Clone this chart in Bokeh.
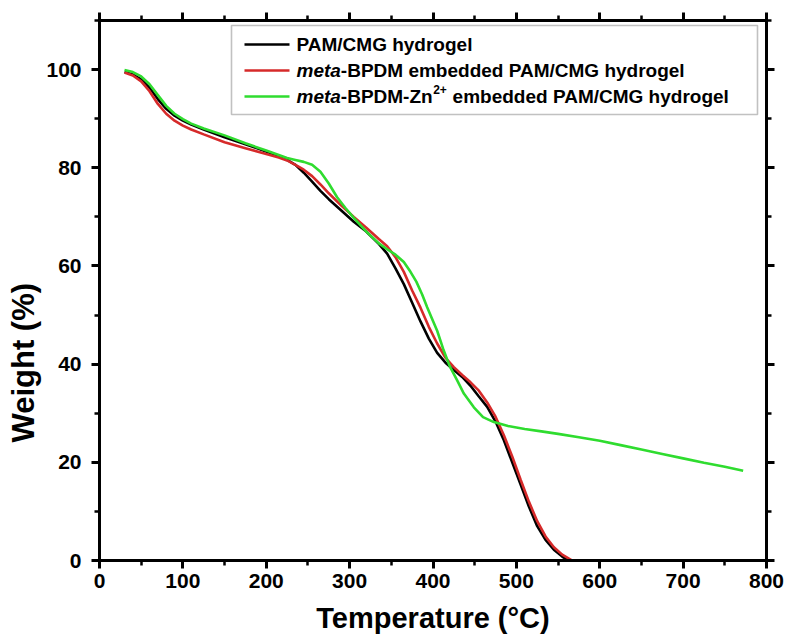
from bokeh.plotting import figure
from bokeh.models import (LinearAxis, SingleIntervalTicker, BoxAnnotation, Label, Title,
                          Range1d, CustomJSTickFormatter)
from bokeh.embed import file_html
from bokeh.resources import INLINE

# ---------------- data ----------------
temp_pam = [30, 40, 50, 60, 70, 80, 90, 100, 110, 125, 150, 175, 200, 215, 225, 235,
            245, 255, 265, 275, 290, 305, 320, 335, 345, 355, 365, 375, 385, 395, 405,
            415, 425, 435, 445, 455, 465, 475, 485, 495, 505, 515, 525, 535, 545, 555, 562]
wt_pam = [99.5, 99.0, 98.0, 96.3, 94.0, 92.0, 90.6, 89.6, 88.8, 87.8, 86.2, 84.8, 83.3,
          82.4, 81.6, 80.6, 79.0, 77.2, 75.3, 73.6, 71.3, 69.0, 67.0, 64.5, 62.5, 59.5,
          56.3, 52.5, 48.7, 45.2, 42.3, 40.3, 38.8, 37.4, 35.6, 33.4, 31.3, 28.3, 24.5,
          20.0, 15.5, 11.0, 7.0, 4.2, 2.2, 0.8, 0.0]

temp_bpdm = [30, 40, 50, 60, 70, 80, 90, 100, 110, 125, 150, 175, 200, 215, 225, 235,
             245, 255, 265, 275, 290, 305, 320, 335, 345, 355, 365, 375, 385, 395, 405,
             415, 425, 435, 445, 455, 465, 475, 485, 495, 505, 515, 525, 535, 545, 555, 567]
wt_bpdm = [99.4, 98.8, 97.6, 95.6, 93.0, 91.0, 89.6, 88.6, 87.8, 86.8, 85.2, 84.0, 82.8,
           82.1, 81.5, 80.6, 79.6, 78.3, 76.6, 74.8, 72.3, 70.0, 67.8, 65.5, 64.0, 61.8,
           58.8, 55.0, 51.5, 47.6, 44.2, 41.3, 39.4, 37.8, 36.3, 34.6, 32.2, 29.3, 25.5,
           21.2, 16.5, 12.0, 8.0, 4.9, 2.7, 1.2, 0.0]

temp_zn = [30, 40, 50, 60, 70, 80, 90, 100, 110, 125, 150, 175, 200, 215, 225, 235, 245,
           255, 265, 275, 285, 295, 305, 320, 335, 345, 355, 365, 373, 380, 387, 393, 400,
           405, 412, 420, 429, 437, 449, 460, 473, 490, 510, 530, 550, 575, 600, 625, 650,
           675, 700, 725, 750, 772]
wt_zn = [99.9, 99.5, 98.6, 97.0, 94.8, 92.6, 91.0, 89.9, 89.0, 88.0, 86.6, 85.0, 83.5,
         82.6, 82.0, 81.6, 81.2, 80.6, 79.2, 76.8, 74.0, 71.8, 69.8, 67.0, 64.6, 63.4,
         62.3, 60.8, 58.8, 56.8, 54.2, 51.6, 48.8, 46.8, 43.2, 39.6, 36.7, 34.0, 31.2,
         29.2, 28.2, 27.4, 26.8, 26.3, 25.8, 25.1, 24.4, 23.5, 22.6, 21.7, 20.8, 19.9,
         19.1, 18.3]

x_ticks_step = 100
y_ticks_step = 20
x_title = "Temperature (°C)"
y_title = "Weight (%)"

COLORS = ["#000000", "#d62a2a", "#2fdc2f"]
FONT = "Liberation Sans"

# ---------------- figure ----------------
p = figure(width=786, height=640, output_backend="svg", toolbar_location=None,
           x_range=Range1d(0, 800), y_range=Range1d(0, 110),
           min_border_left=99, min_border_right=20, min_border_top=20,
           min_border_bottom=80, x_axis_label=x_title)
p.grid.visible = False
p.outline_line_color = None
p.background_fill_color = "white"
p.border_fill_color = "white"

xticker = SingleIntervalTicker(interval=x_ticks_step, num_minor_ticks=2)
yticker = SingleIntervalTicker(interval=y_ticks_step, num_minor_ticks=2)


def style_axis(ax):
    ax.axis_line_width = 3
    ax.axis_line_color = "black"
    ax.major_tick_line_width = 3
    ax.minor_tick_line_width = 2.5
    ax.major_tick_out = 8
    ax.major_tick_in = 0
    ax.minor_tick_out = 5
    ax.minor_tick_in = 0
    ax.major_label_text_font = FONT
    ax.major_label_text_font_style = "bold"
    ax.major_label_text_font_size = "21px"
    ax.major_label_text_color = "black"
    ax.axis_label_text_font = FONT
    ax.axis_label_text_font_style = "bold"
    ax.axis_label_text_font_size = "29px"
    ax.axis_label_text_color = "black"


p.xaxis.ticker = xticker
p.yaxis.ticker = yticker
for ax in p.xaxis + p.yaxis:
    style_axis(ax)
p.xaxis.major_label_standoff = 5
p.yaxis.major_label_standoff = 10
p.xaxis.axis_label_standoff = 11

blank = CustomJSTickFormatter(code="return ''")
right_ax = LinearAxis(ticker=yticker, formatter=blank)
top_ax = LinearAxis(ticker=xticker, formatter=blank)
for ax in (right_ax, top_ax):
    style_axis(ax)
    ax.major_label_text_font_size = "0px"
    ax.major_label_standoff = 0
p.add_layout(right_ax, "right")
p.add_layout(top_ax, "above")

# y-axis title, placed lower along the axis as in the reference
p.add_layout(Title(text=y_title, align="left", offset=118, standoff=6,
                   text_font=FONT, text_font_style="bold", text_font_size="31px",
                   text_color="black"), "left")

# ---------------- curves ----------------
p.line(temp_pam, wt_pam, line_color=COLORS[0], line_width=2.6)
p.line(temp_bpdm, wt_bpdm, line_color=COLORS[1], line_width=2.6)
p.line(temp_zn, wt_zn, line_color=COLORS[2], line_width=2.6)

# ---------------- custom legend (screen units, relative to the frame) ----------------
W_BOLD = {' ': 278, '-': 333, '/': 278, '+': 584, '2': 556,
          'A': 722, 'B': 722, 'C': 722, 'D': 722, 'G': 778, 'M': 833, 'P': 667, 'Z': 611,
          'a': 556, 'b': 611, 'd': 611, 'e': 556, 'g': 611, 'h': 611, 'l': 278, 'm': 889,
          'n': 611, 'o': 611, 'r': 389, 't': 333, 'y': 556}


def tw(s, size):
    return sum(W_BOLD.get(c, 600) for c in s) * size / 1000.0


LS = 19        # legend font size, px
SUP = 12       # superscript font size, px

p.add_layout(BoxAnnotation(left=132, right=658, top=535, bottom=446,
                           left_units="screen", right_units="screen",
                           top_units="screen", bottom_units="screen",
                           fill_color="white", fill_alpha=1.0,
                           line_color="#333333", line_width=1.6, level="overlay"))

rows_y = [516, 490, 464]
for yc, col in zip(rows_y, COLORS):
    p.add_layout(BoxAnnotation(left=145, right=190, top=yc + 1.3, bottom=yc - 1.3,
                               left_units="screen", right_units="screen",
                               top_units="screen", bottom_units="screen",
                               fill_color=col, fill_alpha=1.0, line_color=None,
                               level="overlay"))


def lab(x, y, text, style="bold", size=LS):
    p.add_layout(Label(x=x, y=y, x_units="screen", y_units="screen", text=text,
                       text_font=FONT, text_font_style=style,
                       text_font_size=f"{size}px", text_color="black",
                       text_align="left", text_baseline="middle", level="overlay"))


tx = 197
lab(tx, rows_y[0], "PAM/CMG hydrogel")
lab(tx, rows_y[1], "meta", "bold italic")
lab(tx + tw("meta", LS), rows_y[1], "-BPDM embedded PAM/CMG hydrogel")
lab(tx, rows_y[2], "meta", "bold italic")
x2 = tx + tw("meta", LS)
lab(x2, rows_y[2], "-BPDM-Zn")
x3 = x2 + tw("-BPDM-Zn", LS)
lab(x3 + 0.5, rows_y[2] + 7, "2+", "bold", SUP)
x4 = x3 + tw("2+", SUP) + tw(" ", LS) + 1
lab(x4, rows_y[2], "embedded PAM/CMG hydrogel")

open("out.html", "w").write(file_html(p, INLINE))
